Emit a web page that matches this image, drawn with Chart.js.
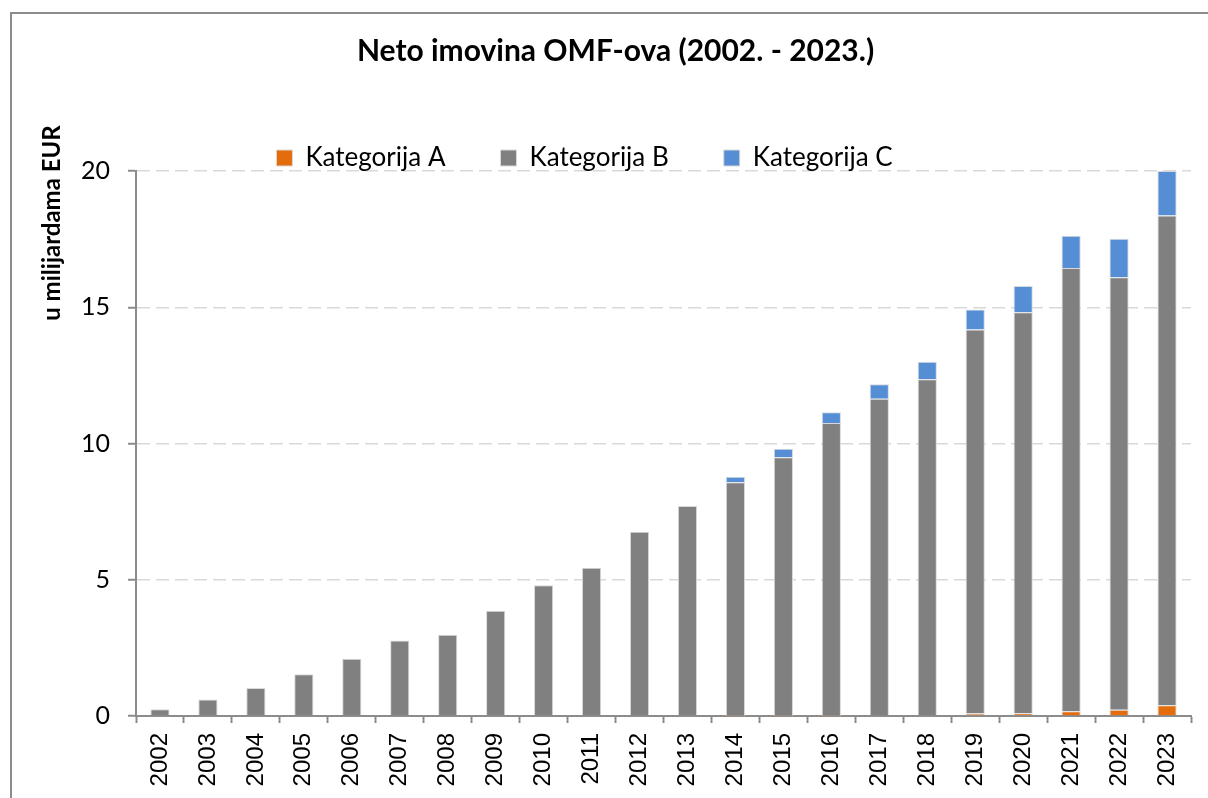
<!DOCTYPE html>
<html>
<head>
<meta charset="utf-8">
<script src="https://cdn.jsdelivr.net/npm/chart.js@4"></script>
<style>
    html, body { margin: 0; padding: 0; background: #fff; overflow: hidden; }
    #frame { position: absolute; left: 10px; top: 12px; width: 1400px; height: 1000px; border: 2px solid #8c8c8c; box-sizing: border-box; pointer-events: none; }
    #chart { position: absolute; left: 0; top: 0; }
</style>
</head>
<body>
<div id="frame"></div>
<canvas id="chart" width="1208" height="798"></canvas>
<script>
const years = ["2002", "2003", "2004", "2005", "2006", "2007", "2008", "2009", "2010", "2011", "2012",
    "2013", "2014", "2015", "2016", "2017", "2018", "2019", "2020", "2021", "2022", "2023"];

// u milijardama EUR
const kategorijaA = [0, 0, 0, 0, 0, 0, 0, 0, 0, 0, 0,
    0, 0.01, 0.01, 0.01, 0.03, 0.04, 0.09, 0.10, 0.17, 0.23, 0.39];
const kategorijaB = [0.25, 0.61, 1.03, 1.53, 2.10, 2.77, 2.98, 3.86, 4.80, 5.44, 6.76,
    7.71, 8.57, 9.49, 10.74, 11.61, 12.32, 14.09, 14.72, 16.27, 15.87, 17.98];
const kategorijaC = [0, 0, 0, 0, 0, 0, 0, 0, 0, 0, 0,
    0, 0.20, 0.31, 0.40, 0.53, 0.64, 0.74, 0.96, 1.18, 1.41, 1.63];

const seriesNames = ["Kategorija A", "Kategorija B", "Kategorija C"];
const seriesColors = ["#e46c0a", "#808080", "#558ed5"];
const yTicks = [0, 5, 10, 15, 20];

const axisColor = "#8c8c8c";

// y axis title sits near the top of the axis, not centred
const yTitlePlugin = {
    id: "yTitle",
    afterDraw(chart) {
        const ctx = chart.ctx;
        ctx.save();
        ctx.translate(60, 223);
        ctx.rotate(-Math.PI / 2);
        ctx.font = "bold 24px Lato";
        ctx.fillStyle = "#000";
        ctx.textAlign = "center";
        ctx.textBaseline = "alphabetic";
        ctx.fillText("u milijardama EUR", 0, 0);
        ctx.restore();
    }
};

// nudge the legend a bit to the left and down
const legendShift = {
    id: "legendShift",
    afterLayout(chart) {
        chart.legend.left -= 62;
        chart.legend.top += 10;
    }
};

const datasets = [kategorijaA, kategorijaB, kategorijaC].map(function (values, i) {
    return {
        label: seriesNames[i],
        data: values,
        backgroundColor: seriesColors[i],
        borderColor: "#d9d9d9",
        borderWidth: 1,
        barPercentage: 0.4,
        categoryPercentage: 1
    };
});

new Chart("chart", {
    type: "bar",
    data: {
        labels: years,
        datasets: datasets
    },
    plugins: [yTitlePlugin, legendShift],
    options: {
        responsive: false,
        animation: false,
        devicePixelRatio: 1,
        layout: {
            padding: { left: 40, right: 17, top: 12, bottom: 0 }
        },
        plugins: {
            title: {
                display: true,
                text: "Neto imovina OMF-ova (2002. - 2023.)",
                color: "#000",
                font: { family: "Lato", size: 30, weight: "bold", lineHeight: 1.2 },
                padding: { top: 21, bottom: 11 }
            },
            legend: {
                display: true,
                position: "top",
                labels: {
                    color: "#000",
                    font: { family: "Lato", size: 26 },
                    boxWidth: 16,
                    boxHeight: 16,
                    padding: 55
                }
            },
            tooltip: { enabled: false }
        },
        scales: {
            x: {
                stacked: true,
                afterFit(scale) { scale.height = 82; },
                border: { display: true, color: axisColor, width: 2 },
                grid: {
                    display: true,
                    offset: true,
                    drawOnChartArea: false,
                    drawTicks: true,
                    tickLength: 7,
                    tickColor: axisColor,
                    tickWidth: 2
                },
                ticks: {
                    color: "#000",
                    font: { family: "Liberation Sans", size: 24 },
                    minRotation: 90,
                    maxRotation: 90,
                    padding: 10,
                    autoSkip: false
                }
            },
            y: {
                stacked: true,
                min: 0,
                max: 20,
                afterFit(scale) { scale.width = 96; },
                afterBuildTicks(scale) {
                    scale.ticks = yTicks.map(function (v) { return { value: v }; });
                },
                border: { display: true, color: axisColor, width: 2, dash: [13, 6] },
                grid: {
                    color: "#d9d9d9",
                    lineWidth: 1.5,
                    drawTicks: true,
                    tickLength: 8,
                    tickColor: axisColor,
                    tickWidth: 2,
                    tickBorderDash: []
                },
                ticks: {
                    color: "#000",
                    font: { family: "Lato", size: 25 },
                    padding: 18
                }
            }
        }
    }
});
</script>
</body>
</html>
